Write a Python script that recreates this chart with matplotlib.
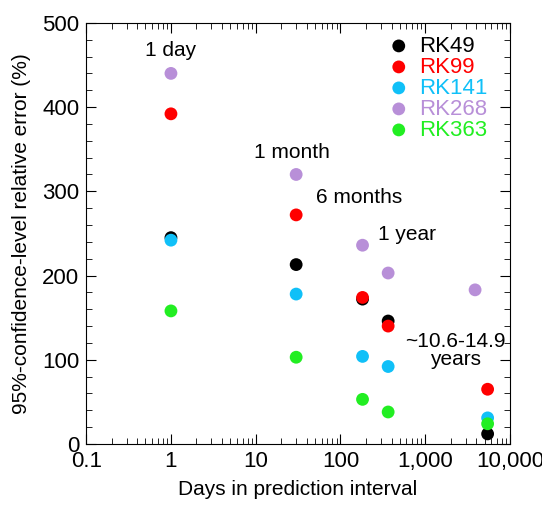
import numpy as np
import matplotlib.pyplot as plt

plt.rcParams['font.family'] = ['Liberation Sans', 'DejaVu Sans']

# prediction intervals (days)
days = [1, 30, 182, 365, 5442]
days_rk268 = [1, 30, 182, 365, 3872]

# relative error (%)
rk49 = [245, 213, 172, 146, 12]
rk99 = [392, 272, 174, 140, 65]
rk141 = [242, 178, 104, 92, 31]
rk268 = [440, 320, 236, 203, 183]
rk363 = [158, 103, 53, 38, 24]

series = [
    ('RK49', days, rk49, 'black'),
    ('RK99', days, rk99, '#ff0000'),
    ('RK141', days, rk141, '#10c0f8'),
    ('RK268', days_rk268, rk268, '#b88fd8'),
    ('RK363', days, rk363, '#22ee22'),
]

fig = plt.figure(figsize=(5.42, 5.08), dpi=100)
ax = fig.add_axes([0.159, 0.126, 0.782, 0.829])

for name, x, y, c in series:
    ax.scatter(x, y, s=85, color=c, label=name, edgecolors='none', zorder=3)

ax.set_xscale('log')
ax.set_xlim(0.1, 10000)
ax.set_ylim(0, 500)
ax.set_xticks([0.1, 1, 10, 100, 1000, 10000])
ax.set_xticklabels(['0.1', '1', '10', '100', '1,000', '10,000'])
ax.set_yticks([0, 100, 200, 300, 400, 500])
ax.set_yticks(np.arange(0, 501, 20), minor=True)
ax.tick_params(which='both', direction='in', top=True, right=True, labelsize=16)
ax.tick_params(which='major', length=7, pad=5)
ax.tick_params(which='minor', length=4)

ax.set_xlabel('Days in prediction interval', fontsize=15, labelpad=6)
ax.set_ylabel('95%-confidence-level relative error (%)', fontsize=15, labelpad=8)

# interval annotations
ax.text(1, 467, '1 day', fontsize=15, ha='center', va='center')
ax.text(27, 346, '1 month', fontsize=15, ha='center', va='center')
ax.text(167, 293, '6 months', fontsize=15, ha='center', va='center')
ax.text(615, 249, '1 year', fontsize=15, ha='center', va='center')
ax.text(2250, 111, '~10.6-14.9\nyears', fontsize=15, ha='center', va='center',
        linespacing=0.95)

leg = ax.legend(loc='upper right', frameon=False, fontsize=16, handletextpad=0.4,
                handlelength=1.0, labelspacing=0.0, borderaxespad=0.0,
                bbox_to_anchor=(1 - 14 / 424, 1 - 4 / 421), scatterpoints=1)
for t, (_, _, _, c) in zip(leg.get_texts(), series):
    t.set_color(c)

fig.savefig('out.png', dpi=100)
